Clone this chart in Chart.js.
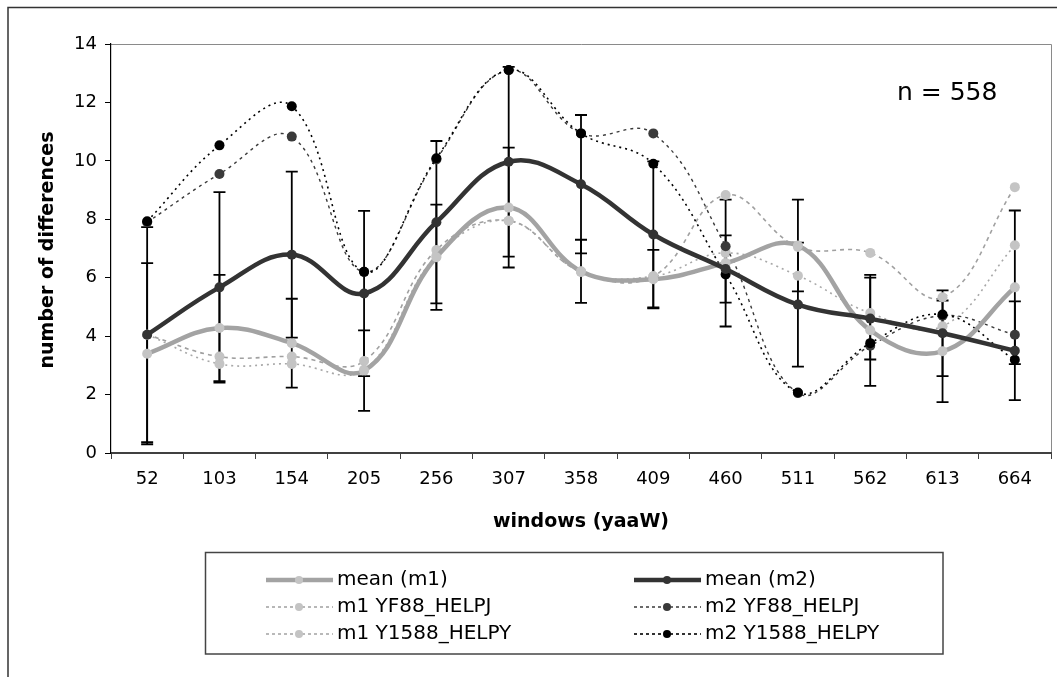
<!DOCTYPE html>
<html>
<head>
<meta charset="utf-8">
<script src="https://cdn.jsdelivr.net/npm/chart.js@4.4.0/dist/chart.umd.min.js"></script>
<style>
  body { margin: 0; background: #fff; overflow: hidden; }
  canvas { display: block; }
</style>
</head>
<body>
<canvas id="myChart" width="1057" height="677"></canvas>
<script>
// windows (yaaW)
const categories = ['52', '103', '154', '205', '256', '307', '358', '409', '460', '511', '562', '613', '664'];

// means and their error bars
const meanM1 = [3.4, 4.28, 3.76, 2.82, 6.7, 8.4, 6.22, 5.95, 6.5, 7.1, 4.2, 3.48, 5.67];
const meanM2 = [4.05, 5.67, 6.79, 5.46, 7.9, 9.97, 9.2, 7.48, 6.3, 5.08, 4.6, 4.1, 3.5];
const errM1 = [3.1, 1.82, 1.52, 1.38, 1.8, 2.05, 1.08, 1.0, 2.17, 1.57, 1.9, 1.74, 2.63];
const errM2 = [3.68, 3.26, 2.84, 2.83, 2.78, 3.25, 2.37, 2.5, 1.15, 2.12, 1.4, 1.47, 1.69];

// individual series
const m1YF88 = [4.05, 3.3, 3.3, 3.15, 6.95, 7.95, 6.2, 6.05, 8.83, 7.05, 6.85, 5.33, 9.1];
const m1Y1588 = [4.05, 3.05, 3.05, 2.85, 6.75, 7.95, 6.2, 6.05, 6.85, 6.07, 4.79, 4.34, 7.11];
const m2YF88 = [7.9, 9.55, 10.83, 6.2, 10.05, 13.1, 10.94, 10.94, 7.08, 2.05, 3.67, 4.7, 4.05];
const m2Y1588 = [7.93, 10.53, 11.87, 6.2, 10.09, 13.11, 10.94, 9.9, 6.11, 2.07, 3.76, 4.74, 3.19];

const yTicks = [0, 2, 4, 6, 8, 10, 12, 14];

const canvas = document.getElementById('myChart');
const FONT = "'DejaVu Sans', sans-serif";

function lineSet(label, data, color, pointColor, width, dash) {
    return {
        label: label,
        data: data,
        borderColor: color,
        borderWidth: width,
        borderDash: dash,
        pointBackgroundColor: pointColor,
        pointBorderColor: pointColor,
        pointBorderWidth: 0,
        pointRadius: 5,
        tension: 0.4,
        fill: false
    };
}

const datasets = [
    lineSet('mean (m2)', meanM2, '#333333', '#333333', 4.5, []),
    lineSet('mean (m1)', meanM1, '#a3a3a3', '#c4c4c4', 4.5, []),
    lineSet('m2 Y1588_HELPY', m2Y1588, '#000000', '#000000', 1.6, [2, 4]),
    lineSet('m2 YF88_HELPJ', m2YF88, '#3a3a3a', '#3a3a3a', 1.4, [3, 4]),
    lineSet('m1 Y1588_HELPY', m1Y1588, '#a8a8a8', '#c4c4c4', 1.6, [2, 4]),
    lineSet('m1 YF88_HELPJ', m1YF88, '#a0a0a0', '#c4c4c4', 1.6, [4, 4])
];

// which dataset gets which error bar values
const errorSets = [
    { label: 'mean (m1)', err: errM1 },
    { label: 'mean (m2)', err: errM2 }
];

const errorBars = {
    id: 'errorBars',
    beforeDatasetsDraw(chart) {
        const ctx = chart.ctx;
        const y = chart.scales.y;
        ctx.save();
        ctx.strokeStyle = '#000';
        ctx.lineWidth = 1.8;
        errorSets.forEach(function (set) {
            const idx = chart.data.datasets.findIndex(d => d.label === set.label);
            const ds = chart.data.datasets[idx];
            chart.getDatasetMeta(idx).data.forEach(function (pt, i) {
                const top = y.getPixelForValue(ds.data[i] + set.err[i]);
                const bot = y.getPixelForValue(ds.data[i] - set.err[i]);
                ctx.beginPath();
                ctx.moveTo(pt.x, top); ctx.lineTo(pt.x, bot);
                ctx.moveTo(pt.x - 6, top); ctx.lineTo(pt.x + 6, top);
                ctx.moveTo(pt.x - 6, bot); ctx.lineTo(pt.x + 6, bot);
                ctx.stroke();
            });
        });
        ctx.restore();
    }
};

// outer frame, plot border, titles, note and the legend box
const decorations = {
    id: 'decorations',
    beforeDraw(chart) {
        const ctx = chart.ctx, a = chart.chartArea;
        ctx.save();
        ctx.strokeStyle = '#333';
        ctx.lineWidth = 1.5;
        ctx.beginPath();
        ctx.moveTo(8, 677); ctx.lineTo(8, 7.5); ctx.lineTo(1057, 7.5);
        ctx.stroke();
        ctx.strokeStyle = '#8a8a8a';
        ctx.lineWidth = 1;
        ctx.beginPath();
        ctx.moveTo(a.left, a.top + 0.5); ctx.lineTo(a.right + 0.5, a.top + 0.5); ctx.lineTo(a.right + 0.5, a.bottom);
        ctx.stroke();
        ctx.restore();
    },
    afterDraw(chart) {
        const ctx = chart.ctx, a = chart.chartArea;
        ctx.save();
        ctx.fillStyle = '#000';
        ctx.textAlign = 'center';
        ctx.textBaseline = 'middle';
        ctx.font = 'bold 19px ' + FONT;
        ctx.fillText('windows (yaaW)', (a.left + a.right) / 2, 522);
        ctx.save();
        ctx.translate(48, 250);
        ctx.rotate(-Math.PI / 2);
        ctx.fillText('number of differences', 0, 0);
        ctx.restore();

        ctx.textAlign = 'left';
        ctx.textBaseline = 'alphabetic';
        ctx.font = '25px ' + FONT;
        ctx.fillText('n = 558', 897, 100);

        // legend
        ctx.strokeStyle = '#444';
        ctx.lineWidth = 1.5;
        ctx.strokeRect(205.5, 552.5, 737.5, 101.5);
        const slots = [
            ['mean (m1)', 266, 580], ['mean (m2)', 634, 580],
            ['m1 YF88_HELPJ', 266, 607], ['m2 YF88_HELPJ', 634, 607],
            ['m1 Y1588_HELPY', 266, 634], ['m2 Y1588_HELPY', 634, 634]
        ];
        slots.forEach(function (s) {
            const ds = chart.data.datasets.find(d => d.label === s[0]);
            const x0 = s[1], yy = s[2];
            ctx.save();
            ctx.strokeStyle = ds.borderColor;
            ctx.lineWidth = ds.borderWidth;
            ctx.setLineDash(ds.borderDash.length ? [3, 3] : []);
            ctx.beginPath();
            ctx.moveTo(x0, yy); ctx.lineTo(x0 + 67, yy);
            ctx.stroke();
            ctx.setLineDash([]);
            ctx.fillStyle = ds.pointBackgroundColor;
            ctx.beginPath();
            ctx.arc(x0 + 33, yy, 4, 0, Math.PI * 2);
            ctx.fill();
            ctx.restore();
            ctx.save();
            ctx.font = '20px ' + FONT;
            ctx.textBaseline = 'middle';
            ctx.fillText(s[0], x0 + 71, yy);
            ctx.restore();
        });
        ctx.restore();
    }
};

const myChart = new Chart(canvas, {
    type: 'line',
    data: {
        labels: categories,
        datasets: datasets
    },
    options: {
        responsive: false,
        animation: false,
        layout: { padding: { top: 44, right: 6, left: 0, bottom: 0 } },
        plugins: {
            legend: { display: false },
            tooltip: { enabled: false }
        },
        scales: {
            x: {
                offset: true,
                grid: { offset: true, drawOnChartArea: false, tickLength: 6, color: '#404040' },
                border: { color: '#404040', width: 2 },
                ticks: { color: '#000', font: { family: FONT, size: 18 }, padding: 10, maxRotation: 0, autoSkip: false },
                afterFit: function (s) { s.height = 224; }
            },
            y: {
                min: 0,
                max: 14,
                afterBuildTicks: function (s) { s.ticks = yTicks.map(v => ({ value: v })); },
                grid: { drawOnChartArea: false, tickLength: 6, color: '#000' },
                border: { color: '#000', width: 1.2 },
                ticks: { color: '#000', font: { family: FONT, size: 18 }, padding: 8 },
                afterFit: function (s) { s.width = 111; }
            }
        }
    },
    plugins: [errorBars, decorations]
});
</script>
</body>
</html>
